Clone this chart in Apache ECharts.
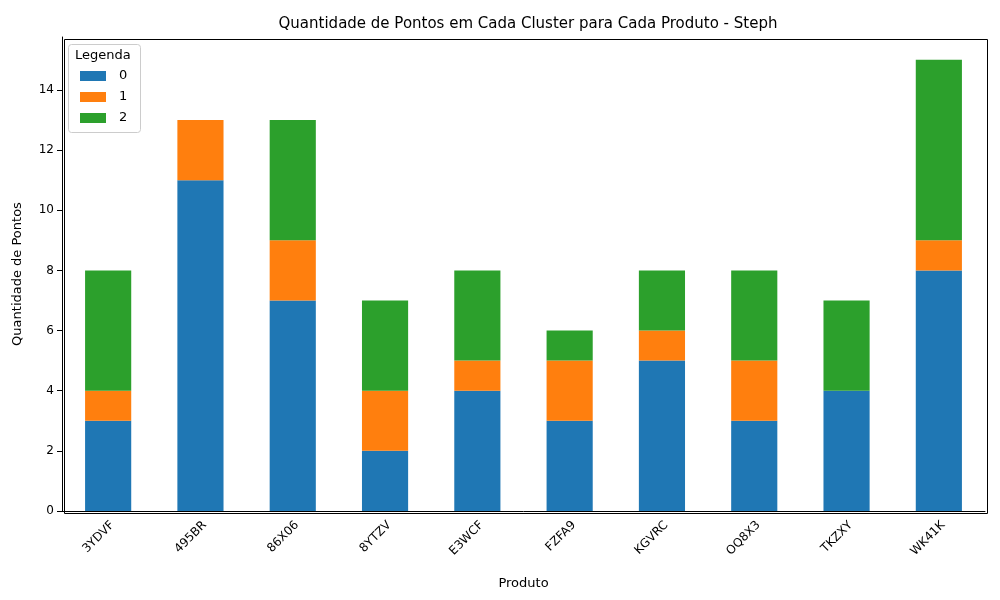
<!DOCTYPE html>
<html><head><meta charset="utf-8">
<script src="https://cdn.jsdelivr.net/npm/echarts@6/dist/echarts.min.js"></script>
<style>html,body{margin:0;padding:0;background:#fff}#c{width:1000px;height:600px}</style>
</head><body><div id="c"></div>
<script>
const categories = ['3YDVF','495BR','86X06','8YTZV','E3WCF','FZFA9','KGVRC','OQ8X3','TKZXY','WK41K'];
const cluster0 = [3,11,7,2,4,3,5,3,4,8];
const cluster1 = [1,2,2,2,1,2,1,2,0,1];
const cluster2 = [4,0,4,3,3,1,2,3,3,6];
const seriesNames = ['0','1','2'];
const colors = ['#1f77b4','#ff7f0e','#2ca02c'];
const font = 'DejaVu Sans';
const chart = echarts.init(document.getElementById('c'));
chart.setOption({
  animation:false,
  textStyle:{fontFamily:font},
  title:{text:'Quantidade de Pontos em Cada Cluster para Cada Produto - Steph',left:523,top:12,textAlign:'center',textStyle:{fontFamily:font,fontSize:15,fontWeight:'normal',color:'#000'}},
  legend:{show:false},
  graphic:[
    {type:'rect',left:68,top:44,shape:{width:72,height:88,r:3},style:{fill:'#fff',stroke:'#ccc',lineWidth:1}},
    {type:'text',left:75,top:49,style:{text:'Legenda',font:'13px "DejaVu Sans"',fill:'#000'}},
    ...seriesNames.map((n,i)=>({type:'rect',left:80,top:71+i*21,shape:{width:26,height:10},style:{fill:colors[i]}})),
    ...seriesNames.map((n,i)=>({type:'text',left:119,top:69+i*21,style:{text:n,font:'13px "DejaVu Sans"',fill:'#000'}}))
  ],
  grid:{left:62,right:15,top:37,bottom:89},
  xAxis:{type:'category',data:categories,name:'Produto',nameLocation:'middle',nameGap:66,
    nameTextStyle:{fontSize:13,color:'#000'},
    axisLine:{lineStyle:{color:'#000'}},axisTick:{alignWithLabel:true,lineStyle:{color:'#000'}},
    axisLabel:{rotate:45,fontSize:12,color:'#000',align:'right',verticalAlign:'top',margin:8},
    splitLine:{show:false}},
  yAxis:{type:'value',min:0,max:15.76,interval:2,name:'Quantidade de Pontos',nameLocation:'middle',nameGap:38,
    nameTextStyle:{fontSize:13,color:'#000'},
    axisLine:{show:true,lineStyle:{color:'#000'}},axisTick:{show:true,lineStyle:{color:'#000'}},
    axisLabel:{fontSize:12,color:'#000',showMaxLabel:false,formatter:v=>v>15?'':v},
    splitLine:{show:false}},
  series:[cluster0,cluster1,cluster2].map((d,i)=>({
    type:'bar',name:seriesNames[i],stack:'s',data:d,barWidth:'50%',itemStyle:{color:colors[i]}
  }))
});
// frame on top/right
chart.setOption({graphic:chart.getOption().graphic[0].elements.concat([
  {type:'rect',left:62,top:37,shape:{width:923,height:474},style:{fill:'none',stroke:'#000',lineWidth:1},z:-1}
])});
</script></body></html>
